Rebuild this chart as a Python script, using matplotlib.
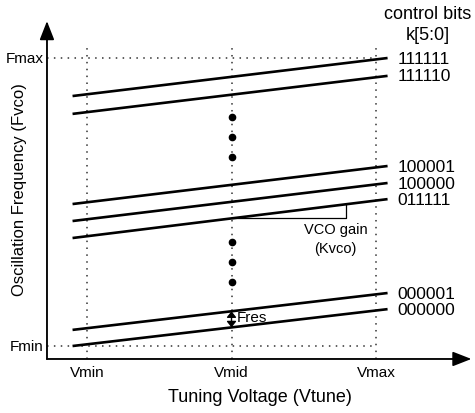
import matplotlib
matplotlib.use('Agg')
import matplotlib.pyplot as plt
import numpy as np

# palabras de control y frecuencias (Fmin=0, Fmax=1) en los extremos de cada recta
codigos = ['000000', '000001', '011111', '100000', '100001', '111110', '111111']
f_izq = [0.000, 0.056, 0.375, 0.434, 0.493, 0.806, 0.868]
f_der = [0.128, 0.184, 0.510, 0.566, 0.625, 0.938, 1.000]
v_ini, v_fin = 0.90, 3.08

# tensiones de referencia
v_labels = ['Vmin', 'Vmid', 'Vmax']
v_pos = [1, 2, 3]
f_labels = ['Fmax', 'Fmin']
f_pos = [1, 0]

# puntos suspensivos en Vmid
puntos_y = [0.795, 0.726, 0.656, 0.361, 0.292, 0.222]

plt.rcParams['font.family'] = ['Liberation Sans', 'DejaVu Sans']

fig = plt.figure(figsize=(4.75, 4.14), dpi=100)
ax = fig.add_axes([0, 0, 1, 1])
ax.set_xlim(0.398, 3.685)
ax.set_ylim(-0.2326, 1.2049)
ax.axis('off')

x0, y0 = 0.723, -0.045  # origen de los ejes

# ejes con flecha
flecha = dict(arrowstyle='-|>,head_length=1.15,head_width=0.45', color='#555555',
              lw=1.2, shrinkA=0, shrinkB=0, fc='black', ec='black')
ax.annotate('', xy=(3.66, y0), xytext=(x0, y0), arrowprops=flecha)
ax.annotate('', xy=(x0, 1.128), xytext=(x0, y0), arrowprops=flecha)
ax.plot([x0, 3.58], [y0, y0], color='#555555', lw=1.2)
ax.plot([x0, x0], [y0, 1.08], color='#555555', lw=1.2)

# lineas punteadas de referencia
for v in v_pos:
    ax.plot([v, v], [y0, 1.049], ls=(0, (1, 3.5)), color='#333333', lw=1.1)
for f in f_pos:
    ax.plot([x0, 3.0], [f, f], ls=(0, (1, 3.5)), color='#333333', lw=1.1)

# rectas de cada palabra de control
for cod, a, b in zip(codigos, f_izq, f_der):
    ax.plot([v_ini, v_fin], [a, b], color='black', lw=1.9, solid_capstyle='butt')
    ax.text(3.15, b, cod, fontsize=12.5, va='center', ha='left')

# puntos
ax.plot([2] * len(puntos_y), puntos_y, 'o', color='black', ms=4.5)

# triangulo de ganancia Kvco (sobre la recta 011111)
i = codigos.index('011111')
pend = (f_der[i] - f_izq[i]) / (v_fin - v_ini)
ya = f_izq[i] + (2 - v_ini) * pend
xb = 2.79
yb = f_izq[i] + (xb - v_ini) * pend
ax.plot([2, xb, xb], [ya, ya, yb], color='black', lw=0.9)
ax.text(2.72, 0.406, 'VCO gain', fontsize=10.5, ha='center', va='center')
ax.text(2.72, 0.340, '(Kvco)', fontsize=10.5, ha='center', va='center')

# flecha Fres
y_lo = f_izq[0] + (2 - v_ini) * (f_der[0] - f_izq[0]) / (v_fin - v_ini)
y_hi = f_izq[1] + (2 - v_ini) * (f_der[1] - f_izq[1]) / (v_fin - v_ini)
ax.annotate('', xy=(2, y_lo), xytext=(2, y_hi),
            arrowprops=dict(arrowstyle='<|-|>,head_length=0.35,head_width=0.28', color='black',
                            lw=1.0, shrinkA=0, shrinkB=0))
ax.text(2.035, 0.10, 'Fres', fontsize=11, ha='left', va='center')

# etiquetas de los ejes
for lab, v in zip(v_labels, v_pos):
    ax.text(v, -0.09, lab, fontsize=11, ha='center', va='center')
for lab, f in zip(f_labels, f_pos):
    ax.text(0.70, f, lab, fontsize=11, ha='right', va='center')

ax.text(2.20, -0.177, 'Tuning Voltage (Vtune)', fontsize=13, ha='center', va='center')
ax.text(0.536, 0.545, 'Oscillation Frequency (Fvco)', fontsize=12, ha='center', va='center',
        rotation=90)
ax.text(3.36, 1.153, 'control bits', fontsize=13, ha='center', va='center')
ax.text(3.36, 1.08, 'k[5:0]', fontsize=13, ha='center', va='center')

plt.savefig('out.png', dpi=100)
